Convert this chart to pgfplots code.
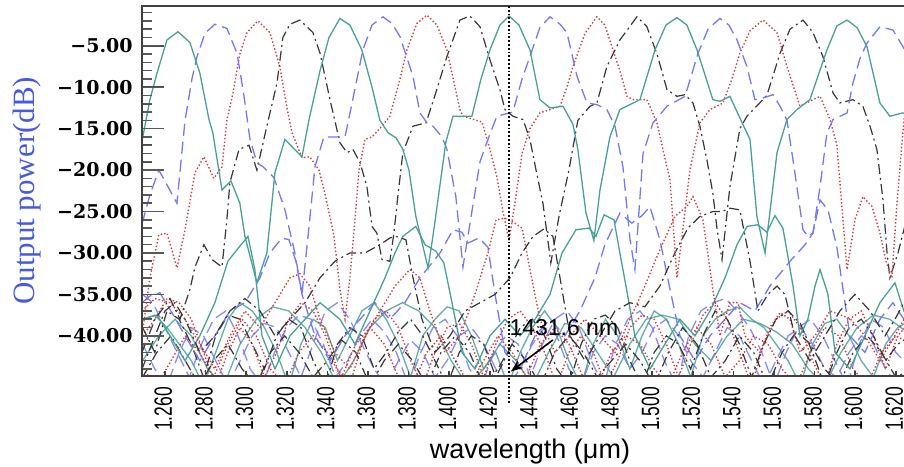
\documentclass[border=0pt]{standalone}
\usepackage{pgfplots}
\pgfplotsset{compat=1.18}
\usetikzlibrary{arrows.meta}
\usepackage{fontspec}
\setmainfont{Liberation Sans}
\newfontfamily\ytfont{DejaVu Serif}
\newfontfamily\ylfont{Liberation Serif}
\newfontfamily\xtfont[FakeStretch=0.7]{Liberation Sans}
\definecolor{tealc}{RGB}{72,160,150}
\definecolor{bluec}{RGB}{115,120,245}
\definecolor{redc}{RGB}{210,60,60}
\definecolor{blackc}{RGB}{55,55,55}
\definecolor{ylblue}{RGB}{70,90,225}
\pgfplotsset{
 tl/.style={tealc, line width=0.65pt, solid},
 bl/.style={bluec, line width=0.65pt, dash pattern=on 6pt off 3pt},
 rd/.style={redc, line width=0.7pt, dash pattern=on 0.7pt off 1.1pt},
 bk/.style={blackc, line width=0.6pt, dash pattern=on 5pt off 2pt on 1pt off 2pt},
 myframe/.style={scale only axis, width=385pt, height=184.8pt,
   xmin=1248.7, xmax=1628, ymin=-44.8, ymax=-0.2,
   axis line style={line width=1pt, black!75}},
}
\begin{document}
\begin{tikzpicture}
\begin{axis}[myframe, xtick=\empty, ytick=\empty, no markers]
% ---- low-level clutter ----
\addplot[tl, opacity=0.85] coordinates {(1249,-38) (1255,-37.5) (1261,-39) (1267,-41) (1273,-43) (1279,-46) (1285,-42) (1291,-38) (1297,-36) (1303,-37) (1309,-39) (1315,-42) (1321,-46) (1327,-41) (1333,-38) (1339,-39) (1345,-43) (1351,-40) (1357,-37) (1363,-36) (1369,-38) (1375,-41) (1381,-45) (1387,-40) (1393,-38) (1399,-36.5) (1405,-37) (1411,-40) (1417,-44) (1423,-42) (1429,-46) (1435,-42) (1441,-39) (1447,-37) (1453,-39) (1459,-43) (1465,-46) (1471,-41) (1477,-38) (1483,-40) (1489,-44) (1495,-40) (1501,-37) (1507,-38) (1513,-41) (1519,-45) (1525,-40) (1531,-38) (1537,-37) (1543,-36.5) (1549,-38) (1555,-39) (1561,-41) (1567,-43) (1573,-46) (1579,-41) (1585,-38.5) (1591,-38) (1597,-40) (1603,-43) (1609,-45) (1615,-41) (1621,-39) (1628,-38)};
\addplot[tl, opacity=0.85] coordinates {(1249,-43) (1257,-40) (1265,-38) (1273,-40) (1281,-44) (1289,-46) (1297,-41) (1305,-38) (1313,-36.5) (1321,-37) (1329,-39) (1337,-42) (1345,-46) (1353,-43) (1361,-39) (1369,-37) (1377,-36) (1385,-37) (1393,-39) (1401,-43) (1409,-46) (1417,-44) (1425,-41) (1433,-43) (1441,-46) (1449,-42) (1457,-38.5) (1465,-39) (1473,-42) (1481,-45) (1489,-41) (1497,-38) (1505,-37.5) (1513,-38) (1521,-41) (1529,-43) (1537,-40) (1545,-38) (1553,-38.5) (1561,-39.5) (1569,-41) (1577,-44) (1585,-46) (1593,-42) (1601,-39) (1609,-37.5) (1617,-38) (1628,-40)};
\addplot[bl, opacity=0.85] coordinates {(1249,-35) (1254,-36) (1260,-39) (1266,-42) (1272,-45) (1278,-41) (1284,-38) (1290,-37) (1296,-40) (1302,-44) (1308,-46) (1314,-42) (1320,-39) (1326,-37.5) (1332,-38) (1338,-41) (1344,-45) (1350,-43) (1356,-40) (1362,-38) (1368,-39.5) (1374,-42) (1380,-46) (1386,-42) (1392,-39) (1398,-38) (1404,-40) (1410,-44) (1416,-46) (1422,-42) (1428,-40) (1434,-41) (1440,-45) (1446,-41) (1452,-38) (1458,-37) (1464,-39) (1470,-43) (1476,-46) (1482,-41) (1488,-38) (1494,-37) (1500,-39) (1506,-43) (1512,-46) (1518,-40) (1524,-37) (1530,-36) (1536,-35.5) (1542,-37) (1548,-39) (1554,-42) (1560,-46) (1566,-42) (1572,-39) (1578,-38) (1584,-40) (1590,-43) (1596,-46) (1602,-41) (1608,-38) (1614,-39) (1620,-42) (1628,-44)};
\addplot[bl, opacity=0.85] coordinates {(1249,-41) (1255,-44) (1261,-46) (1267,-42) (1273,-39) (1279,-40) (1285,-43) (1291,-46) (1297,-43) (1303,-40) (1309,-38.5) (1315,-39) (1321,-42) (1327,-45) (1333,-41) (1339,-37) (1345,-36) (1351,-38) (1357,-41) (1363,-44) (1369,-46) (1375,-43) (1381,-40.5) (1387,-42) (1393,-45) (1399,-43) (1405,-40) (1411,-39) (1417,-41) (1423,-44) (1429,-46) (1435,-44) (1441,-41) (1447,-39) (1453,-40) (1459,-44) (1465,-46) (1471,-42) (1477,-40) (1483,-41) (1489,-44) (1495,-42) (1501,-39) (1507,-38) (1513,-40) (1519,-43) (1525,-45) (1531,-42) (1537,-39) (1543,-40) (1549,-43) (1555,-46) (1561,-43) (1567,-40) (1573,-39) (1579,-41) (1585,-44) (1591,-45) (1597,-42) (1603,-40) (1609,-41) (1615,-44) (1621,-46) (1628,-45)};
\addplot[rd] coordinates {(1249,-40) (1255,-38) (1261,-35.5) (1267,-36) (1273,-38) (1279,-42) (1285,-46) (1291,-42) (1297,-39) (1303,-41) (1309,-45) (1315,-42) (1321,-38) (1327,-36) (1333,-37) (1339,-40) (1345,-44) (1351,-46) (1357,-41) (1363,-38) (1369,-37) (1375,-39) (1381,-43) (1387,-46) (1393,-42) (1399,-39) (1405,-38.5) (1411,-41) (1417,-45) (1423,-41) (1429,-38) (1435,-37) (1441,-39) (1447,-42) (1453,-46) (1459,-42) (1465,-40) (1471,-42) (1477,-46) (1483,-43) (1489,-39) (1495,-37.5) (1501,-38) (1507,-41) (1513,-45) (1519,-41) (1525,-37.5) (1531,-36) (1537,-38) (1543,-42) (1549,-46) (1555,-41) (1561,-38) (1567,-37) (1573,-39) (1579,-43) (1585,-46) (1591,-41) (1597,-38) (1603,-37) (1609,-40) (1615,-44) (1621,-40) (1628,-38)};
\addplot[rd] coordinates {(1249,-44) (1256,-46) (1263,-43) (1270,-40) (1277,-42) (1284,-45) (1291,-41) (1298,-38) (1305,-40) (1312,-44) (1319,-46) (1326,-42) (1333,-40) (1340,-42) (1347,-45) (1354,-41) (1361,-39) (1368,-41) (1375,-45) (1382,-46) (1389,-42) (1396,-40) (1403,-43) (1410,-46) (1417,-43) (1424,-40) (1431,-42) (1438,-45) (1445,-41) (1452,-39) (1459,-41) (1466,-45) (1473,-46) (1480,-42) (1487,-40) (1494,-41) (1501,-44) (1508,-46) (1515,-42) (1522,-39) (1529,-41) (1536,-45) (1543,-43) (1550,-40) (1557,-41) (1564,-44) (1571,-46) (1578,-42) (1585,-39) (1592,-40) (1599,-44) (1606,-46) (1613,-42) (1620,-40) (1628,-41)};
\addplot[bk] coordinates {(1249,-39) (1255,-42) (1261,-37) (1267,-38) (1273,-41) (1279,-45) (1285,-40) (1291,-37.5) (1297,-38) (1303,-41) (1309,-44) (1315,-40) (1321,-38) (1327,-39) (1333,-43) (1339,-46) (1345,-41) (1351,-39) (1357,-40) (1363,-44) (1369,-42) (1375,-39.5) (1381,-38) (1387,-40) (1393,-43) (1399,-46) (1405,-42) (1411,-40) (1417,-41) (1423,-45) (1429,-42) (1435,-39) (1441,-38) (1447,-40) (1453,-44) (1459,-46) (1465,-41) (1471,-38) (1477,-37.5) (1483,-39) (1489,-43) (1495,-46) (1501,-42) (1507,-40) (1513,-41) (1519,-44) (1525,-40) (1531,-37) (1537,-38) (1543,-41) (1549,-45) (1555,-41) (1561,-38) (1567,-37) (1573,-38.5) (1579,-42) (1585,-46) (1591,-42) (1597,-39) (1603,-38) (1609,-40) (1615,-43) (1621,-41) (1628,-40)};
\addplot[bk] coordinates {(1249,-45) (1256,-42) (1263,-40) (1270,-43) (1277,-46) (1284,-43) (1291,-41) (1298,-44) (1305,-46) (1312,-42) (1319,-40) (1326,-42) (1333,-45) (1340,-43) (1347,-40.5) (1354,-42) (1361,-46) (1368,-43) (1375,-41) (1382,-43) (1389,-46) (1396,-42) (1403,-40) (1410,-42) (1417,-46) (1424,-44) (1431,-41) (1438,-43) (1445,-46) (1452,-42) (1459,-40) (1466,-42) (1473,-45) (1480,-43) (1487,-41) (1494,-43) (1501,-46) (1508,-42) (1515,-39) (1522,-41) (1529,-45) (1536,-43) (1543,-40) (1550,-42) (1557,-46) (1564,-42) (1571,-39.5) (1578,-41) (1585,-44) (1592,-46) (1599,-42) (1606,-40) (1613,-42) (1620,-45) (1628,-44)};
% ---- secondary curves ----
\addplot[tl] coordinates {(1248.7,-38) (1256.1,-37.5) (1262.5,-40) (1269.9,-43) (1277.2,-40) (1284.6,-36) (1291.0,-31) (1296.5,-29.3) (1300.9,-28) (1304.3,-32) (1307.8,-40) (1314.2,-44) (1321.6,-40) (1329.0,-38) (1336.4,-36) (1346.2,-38) (1353.6,-41) (1361.0,-37) (1368.4,-33) (1373.3,-30) (1377.2,-28) (1383.6,-26.8) (1388.1,-29) (1393.5,-29.8) (1397.4,-31.2) (1401.4,-36) (1406.3,-42) (1412.7,-44) (1420.1,-40) (1427.5,-38) (1434.9,-40) (1442.3,-38) (1449.7,-35) (1455.6,-30) (1462.5,-27.2) (1468.9,-27) (1472.3,-28) (1476.3,-25.4) (1481.2,-26) (1484.1,-30) (1487.1,-34) (1491.5,-40) (1498.9,-44) (1506.3,-41) (1513.7,-38) (1521.1,-40) (1528.5,-37) (1535.9,-33) (1541.8,-29) (1546.7,-26.8) (1552.1,-26.6) (1556.5,-27.5) (1560.5,-25.5) (1564.4,-27) (1569.4,-34) (1572.8,-40) (1576.7,-38) (1580.2,-34) (1582.7,-32) (1586.6,-35) (1590.1,-42) (1597.4,-44) (1604.8,-40) (1612.2,-36) (1619.6,-33.6) (1624.0,-37) (1628,-39)};
\addplot[bl] coordinates {(1248.7,-36) (1252.6,-35.2) (1257.5,-34.8) (1263.9,-37.4) (1269.9,-40) (1277.2,-43) (1284.6,-40) (1292.0,-37) (1299.4,-36) (1306.8,-33) (1311.7,-30) (1317.6,-28.2) (1321.1,-28.4) (1324.5,-31) (1327.5,-35) (1333.9,-40) (1341.3,-43) (1348.7,-40) (1356.1,-38) (1363.4,-36) (1370.8,-38) (1378.2,-36) (1385.6,-33) (1395.5,-30) (1401.9,-27.2) (1406.3,-27.5) (1409.3,-28.8) (1414.7,-28.2) (1419.1,-29.3) (1422.6,-35) (1427.5,-42) (1434.9,-44) (1442.3,-40) (1449.7,-38) (1457.0,-40) (1464.4,-37) (1471.8,-33) (1476.7,-29) (1484.1,-25.2) (1490.0,-26.4) (1495.0,-25.5) (1498.9,-24.4) (1503.8,-28.4) (1508.8,-34.4) (1513.7,-40) (1521.1,-43) (1528.5,-40) (1535.9,-38) (1543.2,-36) (1550.6,-37) (1558.0,-34) (1567.9,-31) (1575.3,-29) (1579.2,-27.6) (1582.7,-23.6) (1586.6,-24.8) (1591.0,-29.3) (1594.0,-34.4) (1597.4,-40) (1604.8,-42) (1612.2,-38) (1618.6,-36) (1624.0,-38) (1628,-40)};
\addplot[rd] coordinates {(1248.7,-37) (1255.1,-35.5) (1262.5,-36) (1269.9,-38) (1277.2,-41) (1284.6,-44) (1292.0,-40) (1299.4,-37) (1306.8,-39) (1314.2,-36) (1321.6,-33) (1326.5,-32.5) (1331.4,-34) (1336.4,-38) (1343.7,-42) (1351.1,-44) (1358.5,-40) (1365.9,-37) (1373.3,-34) (1380.7,-32) (1385.6,-33) (1390.5,-37) (1397.9,-42) (1405.3,-40) (1412.7,-35) (1419.1,-30) (1423.1,-26) (1427.5,-25.8) (1432.4,-26.4) (1435.9,-27) (1439.8,-32) (1444.7,-38) (1452.1,-42) (1459.5,-40) (1466.9,-38) (1474.3,-40) (1481.7,-42) (1489.1,-38) (1496.4,-34) (1501.4,-31) (1505.3,-28.8) (1511.2,-25.6) (1517.1,-24.4) (1520.1,-23.2) (1525.0,-26) (1529.9,-34.4) (1533.4,-40) (1538.3,-36) (1542.3,-36) (1545.7,-40) (1553.1,-42) (1558.0,-39) (1563.0,-37.2) (1567.9,-38) (1572.8,-42) (1580.2,-40) (1587.6,-37) (1597.4,-37.9) (1604.8,-40) (1612.2,-43) (1619.6,-40) (1624.0,-38) (1628,-37)};
\addplot[bk] coordinates {(1248.7,-44) (1255.1,-40) (1260.0,-37) (1264.9,-36) (1269.9,-38) (1277.2,-42) (1284.6,-40) (1292.0,-37) (1299.4,-35.5) (1306.8,-37) (1314.2,-40) (1321.6,-38) (1329.0,-36) (1336.4,-33) (1343.7,-31) (1351.1,-30) (1358.5,-30) (1365.9,-29) (1370.8,-28.2) (1373.8,-28) (1378.7,-28.4) (1382.2,-33) (1386.6,-38) (1393.0,-42) (1400.4,-40) (1407.8,-37) (1415.2,-36) (1422.6,-35) (1430.0,-33) (1435.9,-30) (1441.3,-28) (1446.7,-27.1) (1451.1,-28) (1454.6,-33) (1459.5,-40) (1466.9,-43) (1474.3,-40) (1481.7,-37) (1489.1,-36) (1496.4,-36.5) (1503.8,-34) (1511.2,-30) (1517.6,-27) (1523.5,-25.6) (1529.9,-25) (1534.4,-25) (1538.3,-24.6) (1543.2,-24.8) (1548.2,-31) (1552.1,-37) (1557.0,-35) (1561.5,-34) (1565.4,-35) (1570.3,-40) (1577.7,-43) (1585.1,-40) (1592.5,-37) (1599.9,-35) (1607.3,-37) (1614.7,-40) (1619.6,-38) (1624.0,-36) (1628,-35)};
% ---- main channel responses ----
\addplot[bk] coordinates {(1248.7,-42) (1255.1,-38) (1262.5,-35.5) (1267.4,-38) (1272.3,-34.4) (1274.8,-31.7) (1279.2,-29) (1283.2,-30.8) (1288.1,-31.7) (1290.5,-26) (1292.0,-21.5) (1296.5,-17.5) (1301.4,-17) (1305.3,-20) (1310.2,-14.7) (1315.2,-9.5) (1318.1,-4) (1321.6,-2.4) (1326.5,-1.9) (1332.9,-3.4) (1336.4,-5.9) (1341.3,-11.5) (1346.2,-16.7) (1349.7,-17.9) (1352.6,-17.5) (1356.1,-19.1) (1359.5,-22) (1362.0,-26.8) (1364.4,-27.6) (1366.9,-30.8) (1370.8,-31) (1372.8,-27.6) (1374.8,-23) (1377.2,-17.9) (1382.2,-14.7) (1388.6,-14.3) (1393.0,-11) (1398.9,-6.3) (1405.3,-1.9) (1410.2,-1.4) (1415.2,-2.7) (1420.1,-6.7) (1425.0,-10.3) (1427.5,-12.7) (1431.4,-13.5) (1436.4,-13.9) (1439.8,-16.3) (1442.8,-20) (1446.2,-24) (1450.1,-31.2) (1454.1,-25.6) (1459.0,-20) (1463.4,-14) (1469.4,-12.3) (1472.8,-11.9) (1477.7,-7.5) (1484.1,-4.3) (1492.5,-1.5) (1497.4,-2.7) (1502.4,-6) (1507.3,-10.3) (1512.2,-11.1) (1516.2,-10.9) (1520.1,-11.9) (1523.5,-14.7) (1527.0,-18.8) (1529.9,-22.8) (1531.9,-27) (1534.4,-30.8) (1538.3,-22) (1543.2,-15) (1546.7,-13.5) (1556.5,-11) (1563.0,-5.9) (1567.9,-3) (1574.3,-1.9) (1579.2,-3.4) (1584.1,-6.3) (1589.1,-10.7) (1592.5,-11.9) (1598.9,-11.5) (1603.8,-12.3) (1607.3,-14.7) (1610.7,-17.5) (1613.7,-23.6) (1615.7,-30) (1617.1,-33) (1621.1,-30) (1624.0,-27.2) (1628,-24)};
\addplot[rd] coordinates {(1248.7,-40) (1252.6,-33) (1257.0,-27.8) (1261.0,-27.6) (1265.9,-31.8) (1269.9,-27.2) (1274.8,-20.3) (1279.2,-18.4) (1284.1,-21) (1288.1,-19.6) (1290.5,-14) (1293.5,-10.7) (1296.9,-6) (1300.4,-3.4) (1305.8,-2) (1311.7,-3.4) (1316.6,-7.5) (1320.1,-12.5) (1322.6,-15.5) (1327.5,-18.5) (1331.4,-18.4) (1335.9,-20) (1338.8,-22.8) (1343.3,-28) (1346.2,-34.4) (1348.7,-38) (1351.1,-33) (1353.6,-26) (1355.6,-20) (1358.5,-16.3) (1362.0,-16) (1366.9,-14.7) (1370.8,-13.5) (1375.8,-9) (1379.2,-5.5) (1384.1,-2.3) (1389.1,-1.3) (1394.0,-2.5) (1398.9,-5.5) (1402.9,-10) (1405.3,-12.7) (1406.8,-13.5) (1416.2,-14.2) (1420.1,-17.5) (1423.5,-20.8) (1426.5,-25) (1429.5,-28.5) (1432.4,-24) (1435.9,-18) (1439.8,-15) (1444.7,-13.1) (1454.6,-12.3) (1458.0,-10) (1461.0,-7.5) (1466.9,-3.5) (1472.8,-1.5) (1476.7,-2.5) (1480.7,-5.5) (1484.1,-8) (1487.6,-11.1) (1490.5,-11.5) (1497.4,-11.5) (1502.4,-14.3) (1505.3,-17.5) (1508.8,-21.2) (1512.2,-33) (1514.7,-28) (1518.6,-20) (1523.5,-14.3) (1528.5,-12.7) (1534.9,-11.9) (1539.3,-9) (1543.2,-5.9) (1548.2,-3.2) (1554.6,-1.9) (1561.5,-3.4) (1566.4,-7.5) (1572.8,-12.3) (1579.2,-11.5) (1582.7,-11.1) (1587.6,-13.9) (1591.0,-17) (1594.0,-26) (1596.0,-32) (1599.9,-26) (1603.8,-23.2) (1608.3,-24.4) (1612.2,-27.6) (1615.2,-31) (1618.1,-33) (1620.6,-24) (1624.0,-14) (1628,-8)};
\addplot[bl] coordinates {(1248.7,-26.5) (1252.6,-23) (1257.0,-20) (1261.5,-22) (1265.9,-24) (1269.9,-14) (1273.3,-9) (1275.8,-6.3) (1279.7,-3.5) (1284.6,-2.4) (1290.5,-2.9) (1295.5,-5.9) (1298.9,-11) (1301.9,-16.3) (1305.3,-19.1) (1308.3,-19.6) (1313.7,-20.9) (1319.1,-24.8) (1324.0,-30) (1327.5,-35) (1330.9,-27) (1333.9,-19.6) (1338.3,-16) (1348.7,-16) (1352.1,-12) (1357.5,-5.5) (1362.0,-2.5) (1367.4,-1.5) (1371.8,-2.3) (1375.8,-3.9) (1382.2,-8.7) (1385.6,-13.1) (1389.1,-14.3) (1392.0,-14.7) (1396.5,-16) (1398.9,-17.5) (1403.3,-23.2) (1406.8,-31.7) (1411.2,-25) (1415.2,-19) (1419.1,-16.3) (1423.5,-13.5) (1431.4,-13) (1435.9,-9) (1439.8,-6.3) (1444.7,-2.8) (1449.7,-1.5) (1454.6,-2.4) (1458.0,-3.4) (1463.0,-8.7) (1467.9,-11.9) (1472.8,-12.1) (1477.7,-12.7) (1481.7,-14.7) (1485.6,-19.6) (1489.1,-28.4) (1491.5,-32) (1495.5,-18) (1500.4,-14.3) (1507.3,-12.3) (1516.2,-11.1) (1522.6,-5.9) (1527.5,-3) (1533.4,-1.7) (1537.8,-2.5) (1541.8,-4.3) (1546.7,-7.5) (1550.6,-11.5) (1554.6,-11.3) (1559.5,-10.9) (1563.0,-12.3) (1566.4,-14) (1569.4,-18.8) (1571.3,-22) (1574.3,-27.2) (1576.7,-28) (1579.2,-27.6) (1582.7,-22) (1586.1,-15.5) (1589.1,-13.9) (1596.0,-13.1) (1598.9,-9.5) (1602.4,-6.5) (1605.8,-4.7) (1612.2,-2.7) (1618.6,-3.1) (1623.5,-5.1) (1628,-7)};
\addplot[tl] coordinates {(1248.7,-16.5) (1252.6,-11.5) (1256.1,-8.3) (1261.0,-4.3) (1266.4,-3.3) (1272.3,-4.6) (1277.2,-8.3) (1281.7,-13.9) (1283.6,-15.5) (1288.1,-22.4) (1292.5,-21.3) (1296.9,-24) (1299.4,-28) (1305.3,-33.6) (1310.2,-30) (1314.2,-20.3) (1319.1,-16.3) (1327.5,-18.4) (1330.9,-14) (1336.4,-8) (1340.8,-4) (1346.2,-1.7) (1351.1,-2.5) (1357.0,-5.5) (1362.0,-10) (1365.9,-14) (1369.9,-15.5) (1373.8,-16.1) (1377.2,-17.5) (1380.2,-20) (1383.6,-25.6) (1389.6,-31.8) (1392.0,-28) (1398.4,-16.6) (1401.9,-13.5) (1411.2,-13.5) (1415.7,-9) (1420.1,-5.5) (1425.0,-2.5) (1429.5,-1.4) (1434.4,-2.5) (1439.8,-5.5) (1444.7,-11.5) (1449.7,-12.5) (1456.1,-12.3) (1461.0,-14.5) (1463.4,-17.5) (1467.4,-25.2) (1471.3,-28.5) (1474.3,-22.4) (1479.2,-16) (1484.1,-12.7) (1494.0,-11.5) (1501.4,-5.5) (1506.8,-2.5) (1512.2,-1.6) (1517.1,-2.5) (1522.1,-5.5) (1529.9,-11.5) (1533.4,-11.7) (1538.3,-11.1) (1544.7,-14.5) (1548.2,-16.3) (1551.6,-25.6) (1555.6,-30) (1561.5,-17.9) (1566.4,-13.9) (1571.3,-12.7) (1577.7,-11.5) (1586.1,-5.5) (1591.0,-2.6) (1596.0,-1.9) (1600.9,-2.8) (1605.8,-5.1) (1612.2,-11.9) (1617.1,-13.5) (1623.5,-13.1) (1628,-13.5)};
\coordinate (BL) at (rel axis cs:0,0);
\coordinate (ML) at (rel axis cs:0,0.5);
\coordinate (VT) at (axis cs:1429.5,-0.2);
\coordinate (VB) at (axis cs:1429.5,-48.3);
\coordinate (AH) at (axis cs:1430.4,-44.3);
\coordinate (AT) at (axis cs:1451.1,-40.5);
\coordinate (LB) at (axis cs:1456.5,-39.0);
\end{axis}
% y ticks, drawn over the curves
\begin{axis}[myframe,
 xtick=\empty,
 ytick={-40,-35,-30,-25,-20,-15,-10,-5},
 yticklabels={−40.00,−35.00,−30.00,−25.00,−20.00,−15.00,−10.00,−5.00},
 minor ytick={-44,-43,...,-1},
 ytick pos=left, tick align=inside,
 major tick length=11pt, minor tick length=5pt,
 tick style={black!70, line width=0.8pt},
 yticklabel style={font=\ytfont\bfseries\fontsize{9.5}{11}\selectfont, inner sep=0pt},
 yticklabel shift=4.5pt,
]
\pgfplotsinvokeforeach{-44,-43,...,-1}{\draw[black!65, line width=0.7pt] (axis cs:1248.7,#1) -- ++(5pt,0pt);}
\pgfplotsinvokeforeach{-40,-35,...,-5}{\draw[black!65, line width=0.7pt] (axis cs:1248.7,#1) -- ++(11pt,0pt);}
\end{axis}
% x ticks
\begin{axis}[myframe,
 ytick=\empty,
 xtick={1260,1280,...,1620},
 xticklabels={1.260,1.280,1.300,1.320,1.340,1.360,1.380,1.400,1.420,1.440,1.460,1.480,1.500,1.520,1.540,1.560,1.580,1.600,1.620},
 xtick pos=left, tick align=inside, major tick length=2.5pt,
 tick style={black!75, line width=0.8pt},
 xticklabel style={font=\xtfont\fontsize{12.5}{14}\selectfont, xshift=-0.8pt, rotate=90, anchor=east, inner sep=0pt},
 xticklabel shift=5.5pt,
]
\end{axis}
\draw[black, line width=0.9pt, densely dotted] (VT) -- (VB);
\draw[-{Stealth[length=6pt,width=4.5pt]}, line width=0.8pt] (AT) -- (AH);
\node[font=\fontsize{11.5}{13}\selectfont, inner sep=0pt] at (LB) {1431.6 nm};
\node[rotate=90, font=\ylfont\fontsize{15.5}{17}\selectfont, text=ylblue, inner sep=0pt] at ([xshift=-57.5pt]ML) {Output power(dB)};
\node[font=\fontsize{13.5}{15}\selectfont, inner sep=0pt] at ([xshift=194pt,yshift=-38pt]BL) {wavelength (μm)};
\pgfresetboundingbox
\path ([shift={(-71pt,-45.5pt)}]BL) rectangle ([shift={(381pt,187.8pt)}]BL);
\end{tikzpicture}
\end{document}
